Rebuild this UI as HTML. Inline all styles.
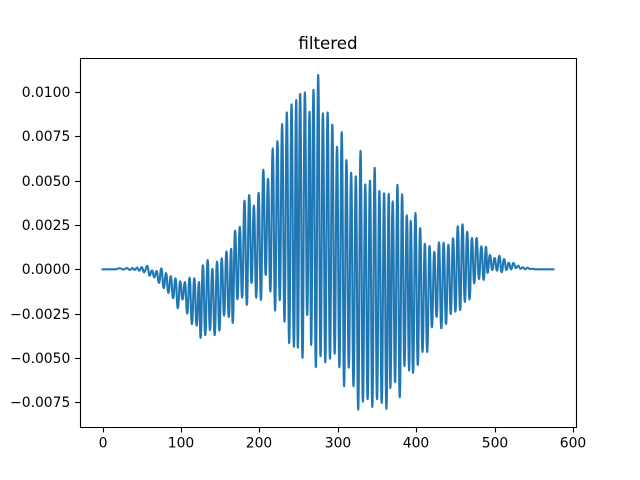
<!DOCTYPE html>
<html lang="en">
<head>
<meta charset="utf-8">
<title>filtered</title>
<style>
html,body{margin:0;padding:0;background:#fff;}
svg{display:block;}
text{font-family:"DejaVu Sans",sans-serif;fill:#000;}
</style>
</head>
<body>
<svg id="chart" width="640" height="480" viewBox="0 0 640 480" xmlns="http://www.w3.org/2000/svg">
  <rect x="0" y="0" width="640" height="480" fill="#fff"/>
  <text x="328" y="49" font-size="16.67" text-anchor="middle">filtered</text>
  <path id="series" fill="none" stroke="#1f77b4" stroke-width="2.08" stroke-linejoin="round" stroke-linecap="square"/>
  <g id="ticks"></g>
  <g stroke="#000" stroke-width="1.11" fill="none">
    <line x1="80.5" y1="58" x2="80.5" y2="428"/>
    <line x1="576.5" y1="58" x2="576.5" y2="428"/>
    <line x1="80" y1="58.5" x2="577" y2="58.5"/>
    <line x1="80" y1="427.5" x2="577" y2="427.5"/>
  </g>
</svg>
<script>
const xTicks = [0, 100, 200, 300, 400, 500, 600];
const xTickLabels = ["0", "100", "200", "300", "400", "500", "600"];
const yTicks = [-0.0075, -0.005, -0.0025, 0, 0.0025, 0.005, 0.0075, 0.01];
const yTickLabels = ["\u22120.0075", "\u22120.0050", "\u22120.0025", "0.0000", "0.0025", "0.0050", "0.0075", "0.0100"];

const sampleIndex = [
  0, 16, 22, 27, 31, 35, 38, 41, 44, 47,
  50, 53, 57, 60, 63, 66, 69, 72, 75, 78,
  81, 84, 87, 90, 93, 96, 99, 102, 105, 108,
  111, 114, 117, 120, 123, 125, 128, 131, 134, 137,
  140, 143, 146, 149, 152, 155, 158, 161, 164, 166,
  169, 172, 175, 178, 181, 184, 187, 190, 193, 196,
  199, 202, 205, 208, 211, 214, 217, 220, 223, 226,
  229, 232, 235, 238, 241, 244, 247, 249, 252, 255,
  258, 261, 264, 266, 269, 272, 275, 278, 281, 284,
  287, 290, 293, 296, 299, 302, 305, 308, 311, 314,
  317, 320, 323, 326, 329, 332, 335, 338, 341, 344,
  347, 350, 353, 356, 359, 362, 365, 367, 370, 373,
  376, 379, 382, 385, 388, 391, 393, 396, 399, 402,
  405, 408, 411, 414, 417, 420, 423, 426, 429, 432,
  435, 438, 441, 444, 447, 450, 453, 456, 459, 462,
  465, 468, 471, 474, 477, 480, 483, 486, 489, 491,
  494, 497, 500, 503, 506, 509, 512, 515, 518, 521,
  524, 527, 530, 533, 536, 539, 542, 545, 548, 552,
  575
];
const sampleValue = [
  0, 0, 0.00006, -0.00001, 0.00007, -0.00004, 0.00007, -0.00004, 0.00009, -0.00008,
  0.00013, -0.00017, 0.00019, -0.00036, -0.00006, -0.00045, -0.0001, -0.00077, 0.00006, -0.00107,
  -0.00021, -0.00134, -0.00038, -0.00164, -0.00051, -0.0022, -0.00068, -0.00171, -0.00072, -0.0025,
  -0.00047, -0.0031, -0.00051, -0.00318, -0.00072, -0.00387, 0.00023, -0.00371, 0.00052, -0.00344,
  0.00003, -0.00371, 0.00043, -0.00346, 0.00062, -0.00262, 0.00102, -0.00269, 0.00116, -0.00303,
  0.00218, -0.00169, 0.00239, -0.0016, 0.00387, -0.00201, 0.00419, -0.00077, 0.00359, -0.0016,
  0.00432, -0.00173, 0.00562, -0.00032, 0.00511, -0.00126, 0.00682, -0.00233, 0.00724, -0.00175,
  0.0082, -0.00296, 0.00885, -0.00416, 0.00931, -0.00437, 0.00955, -0.00442, 0.0099, -0.005,
  0.00998, -0.00258, 0.00889, -0.00427, 0.01013, -0.00551, 0.01097, -0.00491, 0.0088, -0.00525,
  0.00885, -0.00504, 0.00816, -0.00476, 0.00691, -0.00553, 0.00774, -0.0066, 0.00616, -0.00555,
  0.00545, -0.0066, 0.00525, -0.00792, 0.00669, -0.00747, 0.00479, -0.00733, 0.005, -0.00777,
  0.00573, -0.00733, 0.00442, -0.00754, 0.00429, -0.00788, 0.00426, -0.00671, 0.00384, -0.00637,
  0.00477, -0.00722, 0.00423, -0.00547, 0.00305, -0.00572, 0.00274, -0.00585, 0.00318, -0.0054,
  0.00233, -0.00467, 0.00144, -0.00467, 0.00131, -0.00327, 0.00099, -0.00269, 0.00152, -0.00333,
  0.0015, -0.00309, 0.00139, -0.00252, 0.00175, -0.00239, 0.00243, -0.0023, 0.00254, -0.00184,
  0.00212, -0.00171, 0.00177, -0.00079, 0.00177, -0.00055, 0.0013, -0.0006, 0.00127, -0.00021,
  0.00082, -0.00004, 0.00064, -0.00008, 0.00077, -0.00017, 0.00058, -0.00004, 0.00037, 0,
  0.00036, 0.00007, 0.0002, 0.00003, 0.00011, 0, 0.00009, 0.00002, 0.00003, 0,
  0
];

const xDomain = [-28.75, 603.75];
const yDomain = [-0.00891, 0.011946];
const plotLeft = 80, plotRight = 576, plotTop = 57.6, plotBottom = 427.2;

function xScale(v) {
  return plotLeft + (v - xDomain[0]) / (xDomain[1] - xDomain[0]) * (plotRight - plotLeft);
}
function yScale(v) {
  return plotBottom - (v - yDomain[0]) / (yDomain[1] - yDomain[0]) * (plotBottom - plotTop);
}

const SVGNS = "http://www.w3.org/2000/svg";
const tickGroup = document.getElementById("ticks");

let d = "M" + xScale(sampleIndex[0]).toFixed(2) + " " + yScale(sampleValue[0]).toFixed(2);
for (let i = 1; i < sampleIndex.length; i++) {
  const x0 = xScale(sampleIndex[i - 1]);
  const y0 = yScale(sampleValue[i - 1]);
  const x1 = xScale(sampleIndex[i]);
  const y1 = yScale(sampleValue[i]);
  const mid = (x0 + x1) / 2;
  d += "C" + mid.toFixed(2) + " " + y0.toFixed(2) + " " + mid.toFixed(2) + " " + y1.toFixed(2) + " " + x1.toFixed(2) + " " + y1.toFixed(2);
}
document.getElementById("series").setAttribute("d", d);

xTicks.forEach(function (t, i) {
  const px = Math.round(xScale(t)) + 0.5;
  const mark = document.createElementNS(SVGNS, "line");
  
  
  mark.setAttribute("x1", px);
  mark.setAttribute("x2", px);
  mark.setAttribute("y1", 427.5);
  mark.setAttribute("y2", 432.4);
  mark.setAttribute("stroke", "#000");
  mark.setAttribute("stroke-width", 1.11);
  tickGroup.appendChild(mark);
  const label = document.createElementNS(SVGNS, "text");
  
  
  label.setAttribute("x", px - 0.5);
  label.setAttribute("y", 447.5);
  label.setAttribute("font-size", 13.89);
  label.setAttribute("text-anchor", "middle");
  label.textContent = xTickLabels[i];
  tickGroup.appendChild(label);
});

yTicks.forEach(function (t, i) {
  const py = Math.round(yScale(t)) + 0.5;
  const mark = document.createElementNS(SVGNS, "line");
  
  
  mark.setAttribute("x1", 75.1);
  mark.setAttribute("x2", 80.5);
  mark.setAttribute("y1", py);
  mark.setAttribute("y2", py);
  mark.setAttribute("stroke", "#000");
  mark.setAttribute("stroke-width", 1.11);
  tickGroup.appendChild(mark);
  const label = document.createElementNS(SVGNS, "text");
  
  
  label.setAttribute("x", 70.3);
  label.setAttribute("y", py + 4.6);
  label.setAttribute("font-size", 13.89);
  label.setAttribute("text-anchor", "end");
  label.textContent = yTickLabels[i];
  tickGroup.appendChild(label);
});
</script>
</body>
</html>
